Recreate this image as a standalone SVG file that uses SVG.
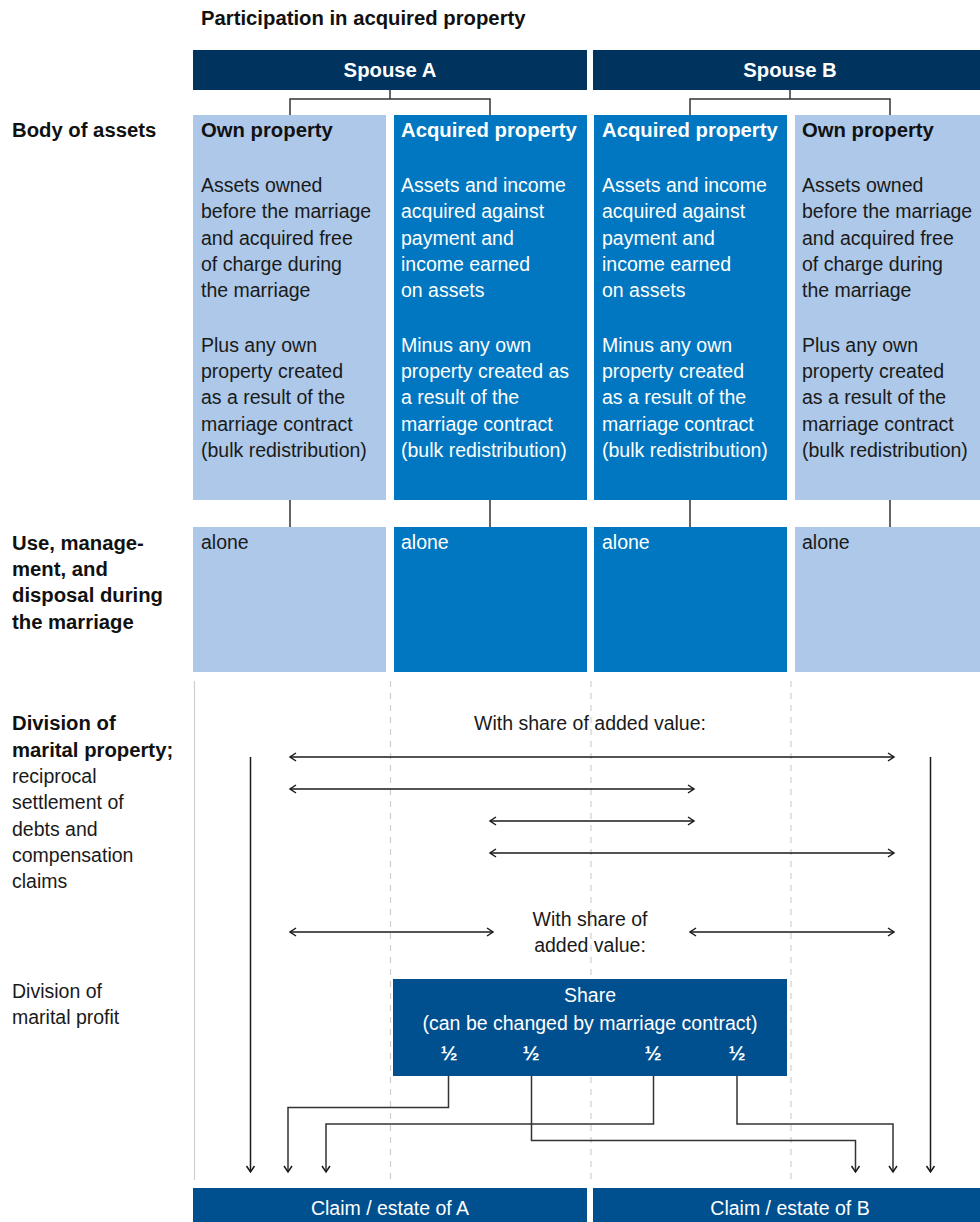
<svg xmlns="http://www.w3.org/2000/svg" width="980" height="1222" viewBox="0 0 980 1222">
  <style>
    text { font-family: "Liberation Sans", Arial, sans-serif; }
    .t { font-size: 19.5px; fill: #1a1a1a; }
    .b { font-size: 20.3px; font-weight: bold; fill: #111; }
    .w { font-size: 19.5px; fill: #fff; }
    .wb { font-size: 20.3px; font-weight: bold; fill: #fff; }
    .half { font-size: 20.5px; font-weight: bold; fill: #fff; text-anchor: middle; }
    .c { text-anchor: middle; }
    .navy { fill: #00345f; }
    .light { fill: #adc8e8; }
    .mid { fill: #0077c0; }
    .deep { fill: #00508f; }
    .link { fill: none; stroke: #333; stroke-width: 1.5; }
    .arr { fill: none; stroke: #1a1a1a; stroke-width: 1.5; }
    .grid { stroke: #cfcfcf; stroke-width: 1.2; }
    .dash { stroke: #cfcfcf; stroke-width: 1.2; stroke-dasharray: 6 6; }
  </style>
  <defs>
    <marker id="head" markerUnits="userSpaceOnUse" markerWidth="12" markerHeight="12" refX="7" refY="5" orient="auto-start-reverse">
      <path d="M1,1 L7,5 L1,9" fill="none" stroke="#1a1a1a" stroke-width="1.5"/>
    </marker>
  </defs>

  <rect width="980" height="1222" fill="#fff"/>

  <!-- title -->
  <text class="b" x="201" y="25">Participation in acquired property</text>

  <!-- row labels -->
  <g id="row-labels">
    <text class="b" x="12" y="137">Body of assets</text>
    <text class="b" x="12" y="550">Use, manage-</text>
    <text class="b" x="12" y="576">ment, and</text>
    <text class="b" x="12" y="602">disposal during</text>
    <text class="b" x="12" y="629">the marriage</text>
    <text class="b" x="12" y="730">Division of</text>
    <text class="b" x="12" y="757">marital property;</text>
    <text class="t" x="12" y="783">reciprocal</text>
    <text class="t" x="12" y="809">settlement of</text>
    <text class="t" x="12" y="836">debts and</text>
    <text class="t" x="12" y="862">compensation</text>
    <text class="t" x="12" y="888">claims</text>
    <text class="t" x="12" y="998">Division of</text>
    <text class="t" x="12" y="1024">marital profit</text>
  </g>

  <!-- spouse headers -->
  <g id="spouse-a">
    <rect class="navy" x="193" y="50" width="394" height="40"/>
    <text class="wb c" x="390" y="77">Spouse A</text>
  </g>
  <g id="spouse-b">
    <rect class="navy" x="593" y="50" width="387" height="40"/>
    <text class="wb c" x="790" y="77">Spouse B</text>
  </g>

  <!-- body of assets -->
  <g id="own-a">
    <rect class="light" x="193" y="115" width="193" height="385"/>
    <text class="b" x="201" y="137">Own property</text>
    <text class="t" x="201" y="192">Assets owned</text>
    <text class="t" x="201" y="218">before the marriage</text>
    <text class="t" x="201" y="245">and acquired free</text>
    <text class="t" x="201" y="271">of charge during</text>
    <text class="t" x="201" y="297">the marriage</text>
    <text class="t" x="201" y="352">Plus any own</text>
    <text class="t" x="201" y="378">property created</text>
    <text class="t" x="201" y="404">as a result of the</text>
    <text class="t" x="201" y="431">marriage contract</text>
    <text class="t" x="201" y="457">(bulk redistribution)</text>
  </g>
  <g id="acq-a">
    <rect class="mid" x="394" y="115" width="193" height="385"/>
    <text class="wb" x="401" y="137">Acquired property</text>
    <text class="w" x="401" y="192">Assets and income</text>
    <text class="w" x="401" y="218">acquired against</text>
    <text class="w" x="401" y="245">payment and</text>
    <text class="w" x="401" y="271">income earned</text>
    <text class="w" x="401" y="297">on assets</text>
    <text class="w" x="401" y="352">Minus any own</text>
    <text class="w" x="401" y="378">property created as</text>
    <text class="w" x="401" y="404">a result of the</text>
    <text class="w" x="401" y="431">marriage contract</text>
    <text class="w" x="401" y="457">(bulk redistribution)</text>
  </g>
  <g id="acq-b">
    <rect class="mid" x="594" y="115" width="193" height="385"/>
    <text class="wb" x="602" y="137">Acquired property</text>
    <text class="w" x="602" y="192">Assets and income</text>
    <text class="w" x="602" y="218">acquired against</text>
    <text class="w" x="602" y="245">payment and</text>
    <text class="w" x="602" y="271">income earned</text>
    <text class="w" x="602" y="297">on assets</text>
    <text class="w" x="602" y="352">Minus any own</text>
    <text class="w" x="602" y="378">property created</text>
    <text class="w" x="602" y="404">as a result of the</text>
    <text class="w" x="602" y="431">marriage contract</text>
    <text class="w" x="602" y="457">(bulk redistribution)</text>
  </g>
  <g id="own-b">
    <rect class="light" x="795" y="115" width="185" height="385"/>
    <text class="b" x="802" y="137">Own property</text>
    <text class="t" x="802" y="192">Assets owned</text>
    <text class="t" x="802" y="218">before the marriage</text>
    <text class="t" x="802" y="245">and acquired free</text>
    <text class="t" x="802" y="271">of charge during</text>
    <text class="t" x="802" y="297">the marriage</text>
    <text class="t" x="802" y="352">Plus any own</text>
    <text class="t" x="802" y="378">property created</text>
    <text class="t" x="802" y="404">as a result of the</text>
    <text class="t" x="802" y="431">marriage contract</text>
    <text class="t" x="802" y="457">(bulk redistribution)</text>
  </g>

  <!-- use, management and disposal -->
  <g id="use-own-a">
    <rect class="light" x="193" y="527" width="193" height="145"/>
    <text class="t" x="201" y="549">alone</text>
  </g>
  <g id="use-acq-a">
    <rect class="mid" x="394" y="527" width="193" height="145"/>
    <text class="w" x="401" y="549">alone</text>
  </g>
  <g id="use-acq-b">
    <rect class="mid" x="594" y="527" width="193" height="145"/>
    <text class="w" x="602" y="549">alone</text>
  </g>
  <g id="use-own-b">
    <rect class="light" x="795" y="527" width="185" height="145"/>
    <text class="t" x="802" y="549">alone</text>
  </g>

  <!-- column guides -->
  <g id="guides">
    <line class="grid" x1="194.5" y1="681" x2="194.5" y2="1180"/>
    <line class="dash" x1="390.5" y1="681" x2="390.5" y2="1180"/>
    <line class="dash" x1="591" y1="681" x2="591" y2="1180"/>
    <line class="dash" x1="791" y1="681" x2="791" y2="1180"/>
  </g>

  <!-- division labels -->
  <g id="added-value-labels">
    <text class="t c" x="590" y="730">With share of added value:</text>
    <text class="t c" x="590" y="926">With share of</text>
    <text class="t c" x="590" y="952">added value:</text>
  </g>

  <!-- share of profit -->
  <g id="share">
    <rect class="deep" x="393" y="979" width="394" height="97"/>
    <text class="w c" x="590" y="1002">Share</text>
    <text class="w c" x="590" y="1030">(can be changed by marriage contract)</text>
    <text class="half" x="449" y="1060">½</text>
    <text class="half" x="531" y="1060">½</text>
    <text class="half" x="653" y="1060">½</text>
    <text class="half" x="737" y="1060">½</text>
  </g>

  <!-- claims -->
  <g id="claim-a">
    <rect class="deep" x="193" y="1188" width="394" height="34"/>
    <text class="w c" x="390" y="1215">Claim / estate of A</text>
  </g>
  <g id="claim-b">
    <rect class="deep" x="593" y="1188" width="387" height="34"/>
    <text class="w c" x="790" y="1215">Claim / estate of B</text>
  </g>

  <!-- connectors -->
  <g id="connectors">
    <path class="link" d="M390,90 V99 M290,115 V99 H490 V115"/>
    <path class="link" d="M790,90 V99 M690,115 V99 H890 V115"/>
    <path class="link" d="M290,500 V527 M490,500 V527 M690,500 V527 M890,500 V527"/>

    <line class="arr" x1="290" y1="757" x2="894" y2="757" marker-start="url(#head)" marker-end="url(#head)"/>
    <line class="arr" x1="290" y1="789" x2="694" y2="789" marker-start="url(#head)" marker-end="url(#head)"/>
    <line class="arr" x1="490" y1="821" x2="694" y2="821" marker-start="url(#head)" marker-end="url(#head)"/>
    <line class="arr" x1="490" y1="853" x2="894" y2="853" marker-start="url(#head)" marker-end="url(#head)"/>
    <line class="arr" x1="290" y1="932" x2="493" y2="932" marker-start="url(#head)" marker-end="url(#head)"/>
    <line class="arr" x1="690" y1="932" x2="894" y2="932" marker-start="url(#head)" marker-end="url(#head)"/>

    <path class="arr" d="M250.5,757 V1172" marker-end="url(#head)"/>
    <path class="arr" d="M930.5,757 V1172" marker-end="url(#head)"/>
    <path class="link" d="M448.5,1076 V1107.5 H288 V1172" marker-end="url(#head)"/>
    <path class="link" d="M653.5,1076 V1124 H326 V1172" marker-end="url(#head)"/>
    <path class="link" d="M531.5,1076 V1140.5 H855.5 V1172" marker-end="url(#head)"/>
    <path class="link" d="M737,1076 V1124 H893 V1172" marker-end="url(#head)"/>
  </g>
</svg>
